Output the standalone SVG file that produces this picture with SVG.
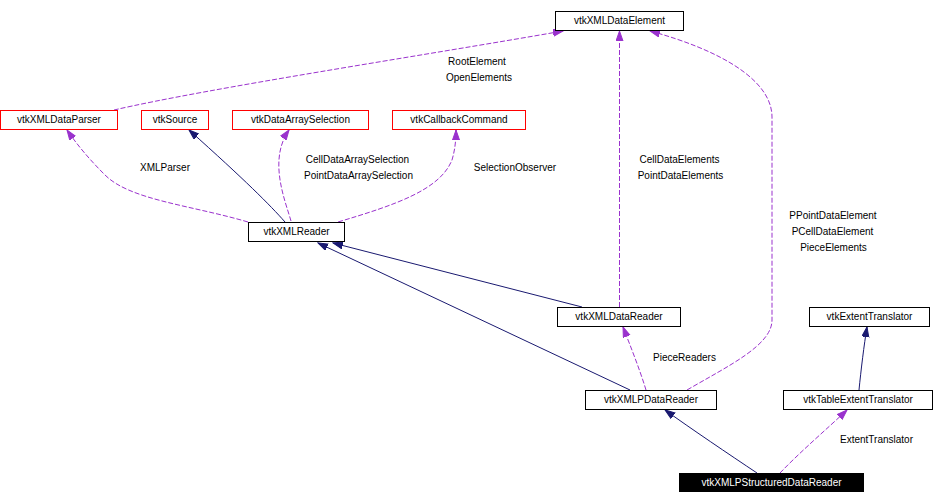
<svg xmlns="http://www.w3.org/2000/svg" width="934" height="504" viewBox="0 0 934 504">
<style>
text{font-family:"Liberation Sans",Arial,sans-serif;font-size:10px;fill:#000}
.n text{text-anchor:middle}
.l{text-anchor:middle}
.red{fill:#fff;stroke:#ff0000;stroke-width:1}
.blk{fill:#fff;stroke:#000;stroke-width:1}
.inh{fill:none;stroke:#191970;stroke-width:1}
.use{fill:none;stroke:#9a32cd;stroke-width:1;stroke-dasharray:5,2}
</style>
<defs>
<marker id="an" markerUnits="userSpaceOnUse" markerWidth="11" markerHeight="9" refX="10" refY="4" orient="auto"><path d="M0,0.5 L10,4 L0,7.5 z" fill="#191970" stroke="#191970"/></marker>
<marker id="ap" markerUnits="userSpaceOnUse" markerWidth="11" markerHeight="9" refX="10" refY="4" orient="auto"><path d="M0,0.5 L10,4 L0,7.5 z" fill="#9a32cd" stroke="#9a32cd"/></marker>
</defs>
<rect width="934" height="504" fill="#fff"/>
<g id="edges">
<path class="use" marker-end="url(#ap)" d="M114,110 C210,88 420,56 563,31"/>
<path class="use" marker-end="url(#ap)" d="M248,222 C190,205 130,200 105,175 C90,160 78,146 67,130"/>
<path class="inh" marker-end="url(#an)" d="M285,222 C270,205 245,180 189,130"/>
<path class="use" marker-end="url(#ap)" d="M291,221 C285,200 268,160 289,130"/>
<path class="use" marker-end="url(#ap)" d="M338,222 C395,205 440,190 452,160 C455,150 456,140 456,130"/>
<line class="use" marker-end="url(#ap)" x1="619.5" y1="307" x2="619.5" y2="31" shape-rendering="crispEdges"/>
<path class="use" marker-end="url(#ap)" d="M687,390 C730,365 772,345 772,320 L772,117 C772,80 720,50 650,31"/>
<path class="inh" marker-end="url(#an)" d="M630,390 L318,243"/>
<path class="inh" marker-end="url(#an)" d="M582,307 L333,243"/>
<path class="use" marker-end="url(#ap)" d="M646,390 C640,370 630,345 623,327"/>
<path class="inh" marker-end="url(#an)" d="M757,473 C730,455 690,428 665,410"/>
<path class="use" marker-end="url(#ap)" d="M780,473 C800,452 828,428 847,410"/>
<path class="inh" marker-end="url(#an)" d="M859,390 C861,370 864,345 867,327"/>
</g>
<g id="edge-labels">
<text class="l" x="477" y="65">RootElement</text>
<text class="l" x="479" y="81">OpenElements</text>
<text class="l" x="165" y="171">XMLParser</text>
<text class="l" x="357.5" y="163">CellDataArraySelection</text>
<text class="l" x="358.5" y="179">PointDataArraySelection</text>
<text class="l" x="515" y="171">SelectionObserver</text>
<text class="l" x="679.5" y="163">CellDataElements</text>
<text class="l" x="680.5" y="179">PointDataElements</text>
<text class="l" x="833" y="219">PPointDataElement</text>
<text class="l" x="832.5" y="235">PCellDataElement</text>
<text class="l" x="833.5" y="251">PieceElements</text>
<text class="l" x="684.5" y="361">PieceReaders</text>
<text class="l" x="876.5" y="443">ExtentTranslator</text>
</g>
<g id="vtkXMLDataElement" class="n"><rect class="blk" x="555.5" y="11.5" width="128" height="19"/><text x="619.5" y="23.5">vtkXMLDataElement</text></g>
<g id="vtkXMLDataParser" class="n"><rect class="red" x="0.5" y="110.5" width="117" height="19"/><text x="59" y="122.5">vtkXMLDataParser</text></g>
<g id="vtkSource" class="n"><rect class="red" x="141.5" y="110.5" width="67" height="19"/><text x="175" y="122.5">vtkSource</text></g>
<g id="vtkDataArraySelection" class="n"><rect class="red" x="232.5" y="110.5" width="136" height="19"/><text x="300.5" y="122.5">vtkDataArraySelection</text></g>
<g id="vtkCallbackCommand" class="n"><rect class="red" x="392.5" y="110.5" width="133" height="19"/><text x="459" y="122.5">vtkCallbackCommand</text></g>
<g id="vtkXMLReader" class="n"><rect class="blk" x="248.5" y="222.5" width="96" height="19"/><text x="296.5" y="234.5">vtkXMLReader</text></g>
<g id="vtkXMLDataReader" class="n"><rect class="blk" x="557.5" y="307.5" width="123" height="19"/><text x="619" y="319.5">vtkXMLDataReader</text></g>
<g id="vtkExtentTranslator" class="n"><rect class="blk" x="809.5" y="307.5" width="120" height="19"/><text x="869.5" y="319.5">vtkExtentTranslator</text></g>
<g id="vtkXMLPDataReader" class="n"><rect class="blk" x="585.5" y="390.5" width="131" height="19"/><text x="651" y="402.5">vtkXMLPDataReader</text></g>
<g id="vtkTableExtentTranslator" class="n"><rect class="blk" x="783.5" y="390.5" width="149" height="19"/><text x="858" y="402.5">vtkTableExtentTranslator</text></g>
<g id="vtkXMLPStructuredDataReader" class="n"><rect x="679" y="473" width="185" height="19" fill="#000"/><text x="771.5" y="485.5" style="fill:#fff">vtkXMLPStructuredDataReader</text></g>
</svg>
